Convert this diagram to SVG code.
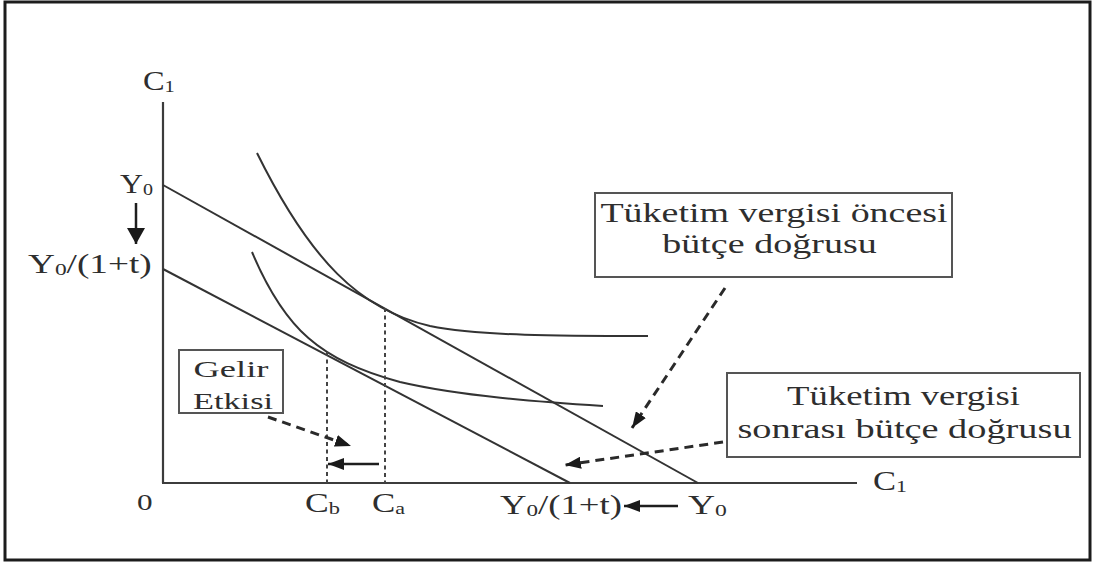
<svg xmlns="http://www.w3.org/2000/svg" width="1094" height="565" viewBox="0 0 1094 565">
  <style>
    .t { font-family: "Liberation Serif", "Times New Roman", serif; fill: #2e2e2e; font-size: 27px; }
    .sub { font-size: 17px; }
    .ax { stroke: #3c3c3c; stroke-width: 2.2; fill: none; }
    .crv { stroke: #333; stroke-width: 2; fill: none; }
    .dot { stroke: #444; stroke-width: 2; stroke-dasharray: 4 3.5; fill: none; }
    .dash { stroke: #2a2a2a; stroke-width: 3; stroke-dasharray: 9 6; fill: none; }
    .solid { stroke: #1e1e1e; stroke-width: 2.5; fill: none; }
    .box { fill: #fff; stroke: #555; stroke-width: 2; }
  </style>
  <defs>
    <marker id="ah" viewBox="0 0 16 12" refX="16" refY="6" markerWidth="16" markerHeight="12" markerUnits="userSpaceOnUse" orient="auto">
      <path d="M0,0 L16,6 L0,12 z" fill="#1a1a1a"/>
    </marker>
    <marker id="ahBig" viewBox="0 0 16 18" refX="16" refY="9" markerWidth="16" markerHeight="18" markerUnits="userSpaceOnUse" orient="auto">
      <path d="M0,0 L16,9 L0,18 z" fill="#1a1a1a"/>
    </marker>
  </defs>

  <rect width="1094" height="565" fill="#fff"/>
  <rect id="frame" x="5" y="2" width="1085" height="558" fill="none" stroke="#1c1c1c" stroke-width="3"/>

  <g id="axes">
    <line class="ax" x1="163" y1="102" x2="163" y2="483"/>
    <line class="ax" x1="162" y1="483" x2="857" y2="483"/>
  </g>

  <g id="budget-lines">
    <line class="crv" x1="163" y1="185" x2="698" y2="483"/>
    <line class="crv" x1="163" y1="269" x2="570" y2="483"/>
  </g>

  <g id="indifference-curves">
    <path class="crv" d="M257,153 C310,260 360,310 430,326 C480,336 560,336 648,336"/>
    <path class="crv" d="M252,252 C285,330 320,360 400,382 C460,396 540,402 603,406"/>
  </g>

  <g id="guides">
    <line class="dot" x1="327" y1="352" x2="327" y2="483"/>
    <line class="dot" x1="385" y1="308" x2="385" y2="483"/>
  </g>

  <g id="axis-labels">
    <text class="t" transform="translate(143,90) scale(1.2,1)">C<tspan class="sub" dy="2">1</tspan></text>
    <text class="t" transform="translate(120,193) scale(1.18,1)">Y<tspan class="sub" dy="2">0</tspan></text>
    <text class="t" transform="translate(28,273) scale(1.38,1)">Y<tspan class="sub" dy="2">0</tspan><tspan dy="-2">/(1+t)</tspan></text>
    <text class="t" style="font-size:24px" transform="translate(137,510) scale(1.3,1)">0</text>
    <text class="t" transform="translate(305,512) scale(1.32,1)">C<tspan class="sub" dy="2">b</tspan></text>
    <text class="t" transform="translate(372,512) scale(1.29,1)">C<tspan class="sub" dy="2">a</tspan></text>
    <text class="t" transform="translate(500,514) scale(1.36,1)">Y<tspan class="sub" dy="2">0</tspan><tspan dy="-2">/(1+t)</tspan></text>
    <text class="t" transform="translate(688,514) scale(1.39,1)">Y<tspan class="sub" dy="2">0</tspan></text>
    <text class="t" transform="translate(873,490) scale(1.28,1)">C<tspan class="sub" dy="2">1</tspan></text>
  </g>

  <g id="box-gelir">
    <rect class="box" x="179" y="350" width="104" height="63"/>
    <text class="t" style="font-size:24px" text-anchor="middle" transform="translate(231,377) scale(1.52,1)">Gelir</text>
    <text class="t" style="font-size:24px" text-anchor="middle" transform="translate(233,409) scale(1.43,1)">Etkisi</text>
  </g>

  <g id="box-oncesi">
    <rect class="box" x="595" y="193" width="357" height="84"/>
    <text class="t" text-anchor="middle" transform="translate(774,222) scale(1.406,1)">Tüketim vergisi öncesi</text>
    <text class="t" text-anchor="middle" transform="translate(769.5,253) scale(1.41,1)">bütçe doğrusu</text>
  </g>

  <g id="box-sonrasi">
    <rect class="box" x="727" y="373" width="353" height="84"/>
    <text class="t" text-anchor="middle" transform="translate(903.5,405) scale(1.36,1)">Tüketim vergisi</text>
    <text class="t" text-anchor="middle" transform="translate(904.5,438) scale(1.42,1)">sonrası bütçe doğrusu</text>
  </g>

  <g id="connectors">
    <line class="solid" x1="136" y1="203" x2="136" y2="244" marker-end="url(#ahBig)"/>
    <line class="solid" x1="678" y1="506" x2="624" y2="506" marker-end="url(#ah)"/>
    <line class="solid" x1="379" y1="464" x2="328" y2="464" marker-end="url(#ah)"/>
    <line class="dash" x1="268" y1="417" x2="351" y2="446" marker-end="url(#ah)"/>
    <line class="dash" x1="725" y1="288" x2="632" y2="428" marker-end="url(#ah)"/>
    <line class="dash" x1="723" y1="442" x2="565" y2="465" marker-end="url(#ah)"/>
  </g>
</svg>
